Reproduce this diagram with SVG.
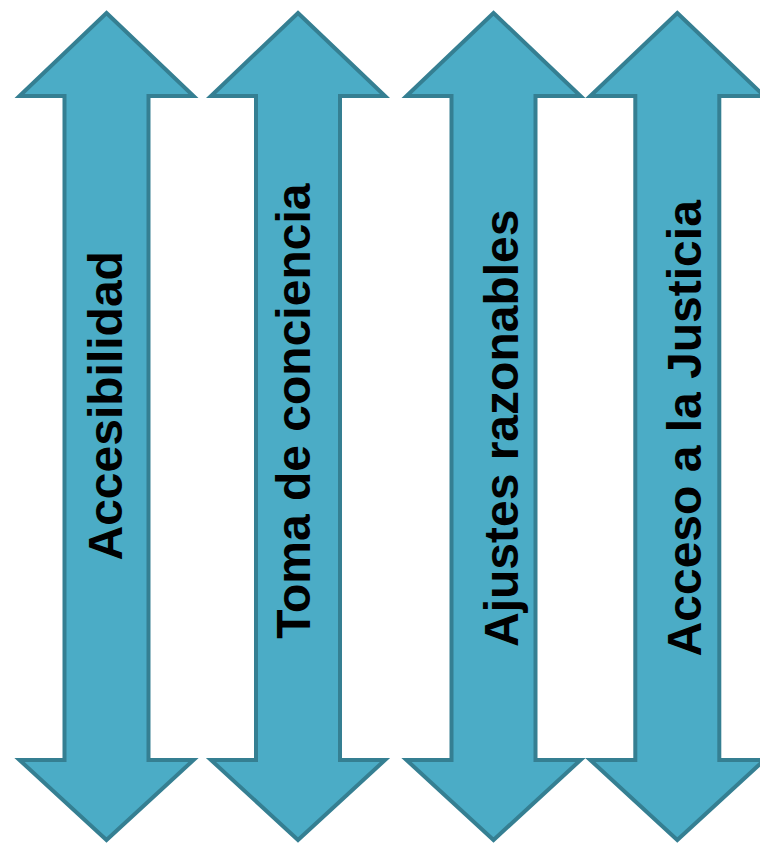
<svg xmlns="http://www.w3.org/2000/svg" width="760" height="844" viewBox="0 0 760 844">
<defs>
<style>
.arrow{fill:#4BACC6;stroke:#357F92;stroke-width:4;stroke-linejoin:miter}
.lbl{font-family:"Liberation Sans",Arial,sans-serif;font-weight:bold;font-size:48px;fill:#000;text-anchor:middle}
</style>
<path id="dbl" d="M0,13 L87,96 L42,96 L42,760 L87,760 L0,840 L-87,760 L-42,760 L-42,96 L-87,96 Z"/>
</defs>
<rect width="760" height="844" fill="#fff"/>
<g id="node-accesibilidad">
<use href="#dbl" class="arrow" transform="translate(106.5,0)"/>
<text class="lbl" transform="translate(121.7,405.8) rotate(-90)">Accesibilidad</text>
</g>
<g id="node-toma">
<use href="#dbl" class="arrow" transform="translate(298,0)"/>
<text class="lbl" transform="translate(310,411.2) rotate(-90)">Toma de conciencia</text>
</g>
<g id="node-ajustes">
<use href="#dbl" class="arrow" transform="translate(493.5,0)"/>
<text class="lbl" transform="translate(518.3,428.3) rotate(-90)">Ajustes razonables</text>
</g>
<g id="node-acceso">
<use href="#dbl" class="arrow" transform="translate(677.3,0)"/>
<text class="lbl" transform="translate(700.7,428.3) rotate(-90)">Acceso a la Justicia</text>
</g>
<g id="connectors"></g>
</svg>
